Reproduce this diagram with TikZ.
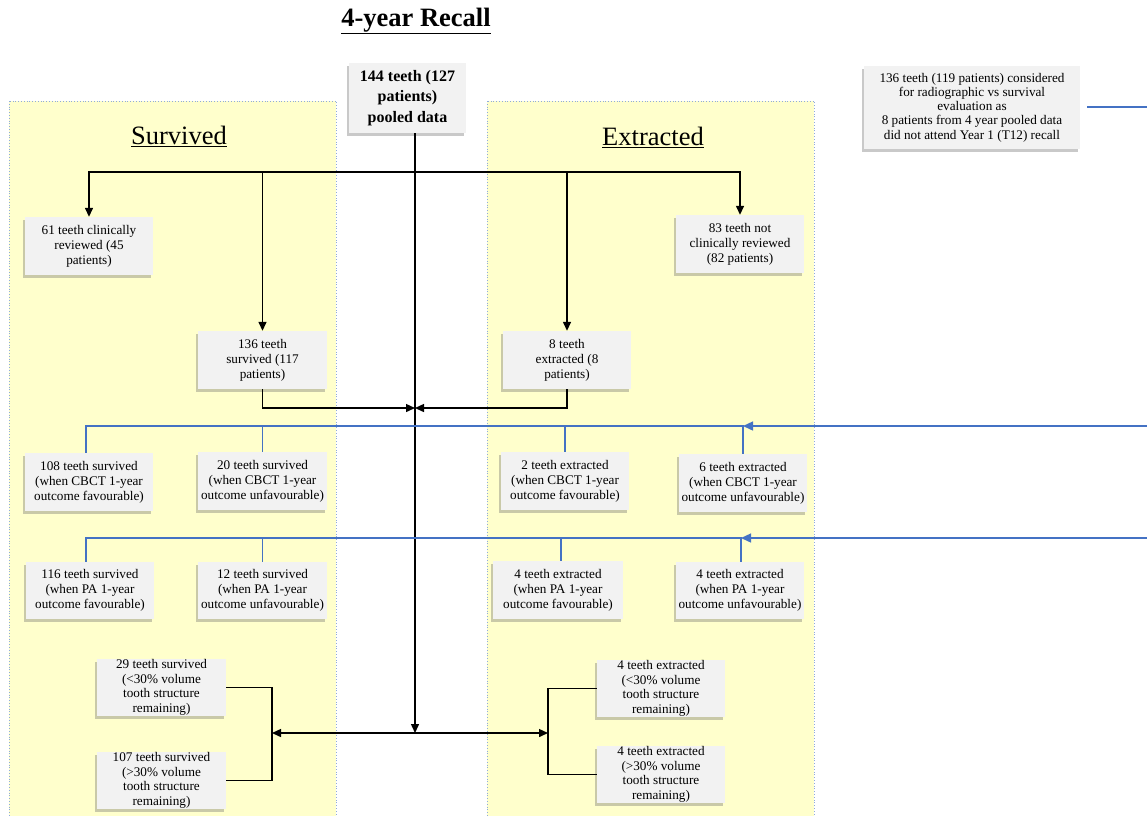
\documentclass[tikz,border=0pt]{standalone}
\usepackage{fontspec}
\setmainfont{Liberation Serif}
\usetikzlibrary{shadows,arrows.meta}
\definecolor{boxgray}{HTML}{F2F2F2}
\definecolor{panel}{HTML}{FFFFCC}
\definecolor{panelline}{HTML}{8FAADC}
\definecolor{bl}{HTML}{4472C4}
\newcommand\bx[5]{\node[box, minimum width=#3pt, minimum height=#4pt] (#1) at (#2) {#5};}
\begin{document}
\begin{tikzpicture}[x=1pt,y=-1pt,
  box/.style={fill=boxgray, inner sep=0pt, align=center,
    font=\fontsize{13.2}{15}\selectfont,
    drop shadow={shadow xshift=-2pt, shadow yshift=-3pt, opacity=0.35, fill=black!60}},
  four/.style={font=\fontsize{13.2}{14.5}\selectfont},
  conn/.style={draw=black, line width=1.4pt},
  arr/.style={conn, -{Triangle[length=9pt,width=8pt]}},
  blu/.style={draw=bl, line width=1.4pt},
  bluarr/.style={blu, -{Triangle[length=10pt,width=9pt]}},
  pan/.style={draw=panelline, dotted, fill=panel, line width=0.8pt},
  head/.style={font=\fontsize{26.5}{30}\selectfont, inner sep=0pt}]
\useasboundingbox (0,0) rectangle (1147,815);
\fill[white] (0,0) rectangle (1147,815);
% panels
\draw[pan] (9,101) rectangle (336,822);
\draw[pan] (487,101) rectangle (814,822);
% title and headings
\node[font=\fontsize{26.5}{30}\selectfont\bfseries, inner sep=0pt] (title) at (416,21) {\underline{4-year Recall}};
\node[head] (surv) at (179,136) {\underline{Survived}};
\node[head] (extr) at (653,137) {\underline{Extracted}};
% boxes
\node[box, minimum width=117pt, minimum height=70pt, font=\fontsize{16}{20.5}\selectfont\bfseries] (top) at (407.5,98) {144 teeth (127\\patients)\\pooled data};
\node[box, minimum width=216pt, minimum height=83pt, font=\fontsize{13.2}{14.3}\selectfont] (note) at (972,107.5) {136 teeth (119 patients) considered\\for radiographic vs survival\\evaluation as\\8 patients from 4 year pooled data\\did not attend Year 1 (T12) recall};
\bx{b61}{89,246}{128}{58}{61 teeth clinically\\reviewed (45\\patients)}
\bx{b83}{740,244}{128}{58}{83 teeth not\\clinically reviewed\\(82 patients)}
\bx{b136}{262.5,360}{129}{58}{136 teeth\\survived (117\\patients)}
\bx{b8}{567,360}{128}{58}{8 teeth\\extracted (8\\patients)}
\bx{b108}{89,482}{128}{58}{108 teeth survived\\(when CBCT 1-year\\outcome favourable)}
\bx{b20}{262.5,481}{129}{58}{20 teeth survived\\(when CBCT 1-year\\outcome unfavourable)}
\bx{b2}{565,481}{128}{58}{2 teeth extracted\\(when CBCT 1-year\\outcome favourable)}
\bx{b6}{743,483}{128}{58}{6 teeth extracted\\(when CBCT 1-year\\outcome unfavourable)}
\bx{b116}{90,590.5}{128}{57}{116 teeth survived\\(when PA 1-year\\outcome favourable)}
\bx{b12}{262.5,590.5}{129}{57}{12 teeth survived\\(when PA 1-year\\outcome unfavourable)}
\bx{b4f}{558,590}{130}{58}{4 teeth extracted\\(when PA 1-year\\outcome favourable)}
\bx{b4u}{740,590.5}{128}{57}{4 teeth extracted\\(when PA 1-year\\outcome unfavourable)}
\node[box, four, minimum width=129pt, minimum height=57pt] (b29) at (161.5,687.5) {29 teeth survived\\(<30\% volume\\tooth structure\\remaining)};
\node[box, four, minimum width=129pt, minimum height=57pt] (b107) at (161.5,780.5) {107 teeth survived\\(>30\% volume\\tooth structure\\remaining)};
\node[box, four, minimum width=128pt, minimum height=57pt] (b4l) at (661,688.5) {4 teeth extracted\\(<30\% volume\\tooth structure\\remaining)};
\node[box, four, minimum width=128pt, minimum height=57pt] (b4g) at (661,774.5) {4 teeth extracted\\(>30\% volume\\tooth structure\\remaining)};
% coordinates
\coordinate (hub) at (415,172);
\coordinate (m1) at (415,408);
\coordinate (mid) at (415,733);
\coordinate (lb) at (272,733);
\coordinate (rb) at (548,733);
\coordinate (r1) at (1147,426);
\coordinate (r2) at (1147,538);
\coordinate (n0) at (1087,107);
\coordinate (n1) at (1150,107);
% black connectors
\draw[arr] (top.south -| hub) -- (mid);
\draw[arr] (hub) -| (b61.north);
\draw[arr] (hub) -| (b83.north);
\draw[arr] (hub) -| (b136.north);
\draw[arr] (hub) -| (b8.north);
\draw[arr] (b136.south) |- (m1);
\draw[arr] (b8.south) |- (m1);
\draw[arr] (mid) -- (lb);
\draw[arr] (mid) -- (rb);
\draw[conn] (b29.east) -| (lb) |- (b107.east);
\draw[conn] (b4l.west) -| (rb) |- (b4g.west);
% blue connectors
\draw[blu] (n0) -- (n1);
\draw[blu] ([xshift=-3pt]b108.north) -- ([xshift=-3pt]b108.north |- r1) -- (b6.north |- r1) -- (b6.north);
\draw[blu] (b20.north) -- (b20.north |- r1);
\draw[blu] (b2.north) -- (b2.north |- r1);
\draw[bluarr] (r1) -- (b6.north |- r1);
\draw[blu] ([xshift=-4pt]b116.north) -- ([xshift=-4pt]b116.north |- r2) -- ([xshift=1pt]b4u.north |- r2) -- ([xshift=1pt]b4u.north);
\draw[blu] (b12.north) -- (b12.north |- r2);
\draw[blu] ([xshift=3pt]b4f.north) -- ([xshift=3pt]b4f.north |- r2);
\draw[bluarr] (r2) -- ([xshift=1pt]b4u.north |- r2);
\end{tikzpicture}
\end{document}
